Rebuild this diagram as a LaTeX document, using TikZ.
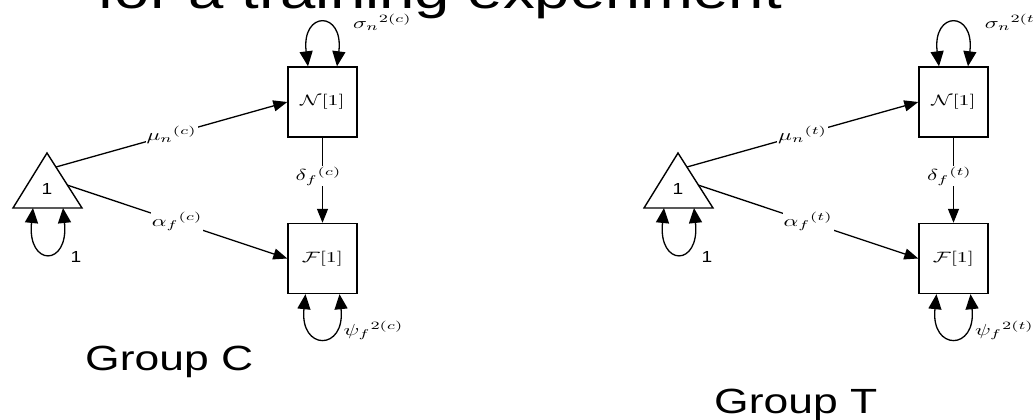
\documentclass[tikz,border=0pt]{standalone}
\usepackage{fontspec}
\setmainfont{Liberation Sans}
\usetikzlibrary{arrows.meta,calc}
\newcommand\wide[2][1.27]{\scalebox{#1}[1]{#2}}
\newcommand\lab[1]{\scalebox{2.3}[1.6]{$#1$}}
\tikzset{
  box/.style={draw, line width=1.4pt, minimum width=69pt, minimum height=70pt, inner sep=0pt},
  lbl/.style={fill=white, inner sep=1pt},
  conn/.style={line width=1.3pt, -{Triangle[length=14pt,width=11pt]}},
  loopc/.style={line width=1.3pt, {Triangle[length=15pt,width=13pt]}-{Triangle[length=15pt,width=13pt]}},
  tri/.style={line width=1.4pt, line join=miter},
  grp/.style={anchor=base west, inner sep=0pt, font=\fontsize{35}{40}\selectfont},
  one/.style={inner sep=0pt, font=\fontsize{16}{18}\selectfont},
}
\begin{document}
\begin{tikzpicture}[x=1pt,y=-1pt]
\useasboundingbox (0,0) rectangle (1033,420);
\fill[white] (0,0) rectangle (1033,420);
\node[anchor=base west, inner sep=0pt, font=\fontsize{50}{56}\selectfont] (title) at (97,9) {\wide{for a training experiment}};
\foreach \g/\dx/\t in {C/0/c, T/631/t}{
  \begin{scope}[xshift=\dx]
    % triangle
    \coordinate (top\g) at (47,153);
    \coordinate (bl\g) at (13,208);
    \coordinate (br\g) at (82,208);
    \coordinate (mu\g) at (56,167);
    \coordinate (al\g) at (67,185);
    \draw[tri] (top\g) -- (br\g) -- (bl\g) -- cycle;
    \node[one] (one\g) at (47,189) {\wide[1.2]{1}};
    \node[one] (oneb\g) at (76,257) {\wide[1.2]{1}};
    % boxes
    \node[box] (N\g) at (322.5,102) {\scalebox{2.2}[1.5]{$\mathcal{N}[1]$}};
    \node[box] (F\g) at (322.5,258.5) {\scalebox{2.2}[1.5]{$\mathcal{F}[1]$}};
    % connectors
    \draw[conn] (mu\g) -- node[lbl, pos=0.5] {\lab{\mu_n{}^{(\t)}}} (N\g.west);
    \draw[conn] (al\g) -- node[lbl, pos=0.5] {\lab{\alpha_f{}^{(\t)}}} (F\g.west);
    \draw[conn] (N\g.south) -- node[lbl, pos=0.45, xshift=-4pt] {\lab{\delta_f{}^{(\t)}}} (F\g.north);
    % self loops
    \draw[loopc] ([xshift=-14.5pt]N\g.north) .. controls +(-7,-56) and +(7,-56) .. ([xshift=14.5pt]N\g.north);
    \draw[loopc] ([xshift=-17pt]F\g.south) .. controls +(-6,57) and +(6,57) .. ([xshift=17pt]F\g.south);
    \draw[loopc] ($(bl\g)+(20,0)$) .. controls +(-6,59) and +(6,59) .. ($(br\g)+(-19,0)$);
    % variance labels
    \node[lbl, fill=none] (sig\g) at ($(N\g.north)+(60,-44)$) {\lab{\sigma_n{}^{2(\t)}}};
    \node[lbl, fill=none] (psi\g) at ($(F\g.south)+(51,36)$) {\lab{\psi_f{}^{2(\t)}}};
  \end{scope}
}
\node[grp] (grpC) at (85,370) {\wide{Group C}};
\node[grp] (grpT) at (714,413) {\wide{Group T}};
\end{tikzpicture}
\end{document}
